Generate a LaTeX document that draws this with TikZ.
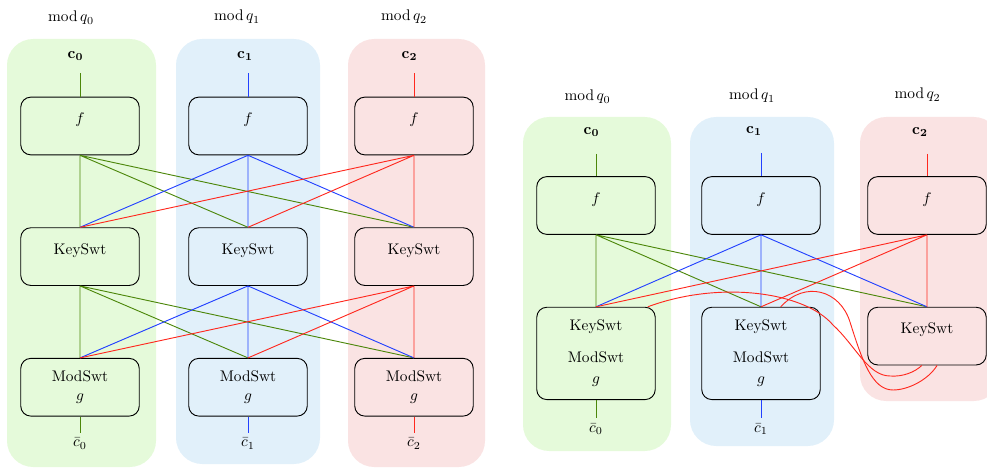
\documentclass[tikz,border=0pt]{standalone}
\usepackage{amsmath}
\usepackage{amssymb}
\usepackage{tikz}
\usetikzlibrary{positioning}
\definecolor{qzero}{RGB}{76,135,10}
\definecolor{qone}{RGB}{35,65,255}
\definecolor{qtwo}{RGB}{255,40,30}
\definecolor{qzerobg}{RGB}{229,250,218}
\definecolor{qonebg}{RGB}{225,240,250}
\definecolor{qtwobg}{RGB}{250,227,227}

\begin{document}
\begin{tikzpicture}[x=0.65pt, y=-0.65pt,
  stage/.style={draw, rounded corners=6.5pt, align=center, minimum width=77pt, minimum height=37.5pt, line width=0.6pt},
  opbox/.style={stage, text depth=10pt},
  swbox/.style={stage, minimum height=60pt},
  lane/.style={rounded corners=17pt},
  wire/.style={line width=0.6pt},
  chead/.style={inner ysep=8pt}
]
\useasboundingbox (0,0) rectangle (987,468);
\clip (0,0) rectangle (987,468);

% lanes
\fill[qzerobg, lane] (7,39) rectangle (156,467);
\fill[qonebg, lane] (176,39) rectangle (320,464);
\fill[qtwobg, lane] (348,39) rectangle (485,467);
\fill[qzerobg, lane] (523,117) rectangle (671,451);
\fill[qonebg, lane] (690,117) rectangle (834,446);
\fill[qtwobg, lane] (860,117) rectangle (1000,401);

% separate key switching and modulus switching
\node (mq0) at (71,18) {$\operatorname{mod} q_0$};
\node (mq1) at (237,17) {$\operatorname{mod} q_1$};
\node (mq2) at (404,17) {$\operatorname{mod} q_2$};
\node[chead] (c0) at (75.5,56) {$\mathbf{c_0}$};
\node[chead] (c1) at (245,56) {$\mathbf{c_1}$};
\node[chead] (c2) at (409.5,56) {$\mathbf{c_2}$};

\node[opbox] (f0) at (80,126) {$f$};
\node[opbox] (f1) at (248,126) {$f$};
\node[opbox] (f2) at (414,126) {$f$};
\node[opbox, below=46.8pt of f0] (ks0) {KeySwt};
\node[opbox, below=46.8pt of f1] (ks1) {KeySwt};
\node[opbox, below=46.8pt of f2] (ks2) {KeySwt};
\node[stage, below=46.8pt of ks0] (ms0) {ModSwt\\$g$};
\node[stage, below=46.8pt of ks1] (ms1) {ModSwt\\$g$};
\node[stage, below=46.8pt of ks2] (ms2) {ModSwt\\$g$};
\node[below=10.4pt of ms0] (cb0) {$\bar{c}_0$};
\node[below=10.4pt of ms1] (cb1) {$\bar{c}_1$};
\node[below=10.4pt of ms2] (cb2) {$\bar{c}_2$};

\draw[wire, qzero] (f0.north |- c0.south) -- (f0);
\draw[wire, qone] (f1.north |- c1.south) -- (f1);
\draw[wire, qtwo] (f2.north |- c2.south) -- (f2);
\draw[wire, qzero] (f0.south) -- (ks0.north) (f0.south) -- (ks1.north) (f0.south) -- (ks2.north);
\draw[wire, qone] (f1.south) -- (ks0.north) (f1.south) -- (ks1.north) (f1.south) -- (ks2.north);
\draw[wire, qtwo] (f2.south) -- (ks0.north) (f2.south) -- (ks1.north) (f2.south) -- (ks2.north);
\draw[wire, qzero] (ks0.south) -- (ms0.north) (ks0.south) -- (ms1.north) (ks0.south) -- (ms2.north);
\draw[wire, qone] (ks1.south) -- (ms0.north) (ks1.south) -- (ms1.north) (ks1.south) -- (ms2.north);
\draw[wire, qtwo] (ks2.south) -- (ms0.north) (ks2.south) -- (ms1.north) (ks2.south) -- (ms2.north);
\draw[wire, qzero] (ms0) -- (cb0);
\draw[wire, qone] (ms1) -- (cb1);
\draw[wire, qtwo] (ms2) -- (cb2);

% merged key switching and modulus switching
\node (rmq0) at (587.5,97) {$\operatorname{mod} q_0$};
\node (rmq1) at (752,96) {$\operatorname{mod} q_1$};
\node (rmq2) at (917.5,95) {$\operatorname{mod} q_2$};
\node[chead, inner ysep=11pt] (rc0) at (591.5,132) {$\mathbf{c_0}$};
\node[chead, inner ysep=11pt] (rc1) at (754,131) {$\mathbf{c_1}$};
\node[chead, inner ysep=11pt] (rc2) at (920,132) {$\mathbf{c_2}$};

\node[opbox] (rf0) at (596,205.5) {$f$};
\node[opbox] (rf1) at (761,205.5) {$f$};
\node[opbox] (rf2) at (927,205.5) {$f$};
\node[swbox, below=46.8pt of rf0] (sw0) {KeySwt\\[8.4pt]ModSwt\\[2pt]$g$};
\node[swbox, below=46.8pt of rf1] (sw1) {KeySwt\\[8.4pt]ModSwt\\[2pt]$g$};
\node[opbox, below=46.8pt of rf2] (rks2) {KeySwt};
\node[below=11.7pt of sw0] (rcb0) {$\bar{c}_0$};
\node[below=11.7pt of sw1] (rcb1) {$\bar{c}_1$};

\draw[wire, qzero] (rf0.north |- rc0.south) -- (rf0);
\draw[wire, qone] (rf1.north |- rc1.south) -- (rf1);
\draw[wire, qtwo] (rf2.north |- rc2.south) -- (rf2);
\draw[wire, qzero] (rf0.south) -- (sw0.north) (rf0.south) -- (sw1.north) (rf0.south) -- (rks2.north);
\draw[wire, qone] (rf1.south) -- (sw0.north) (rf1.south) -- (sw1.north) (rf1.south) -- (rks2.north);
\draw[wire, qtwo] (rf2.south) -- (sw0.north) (rf2.south) -- (sw1.north) (rf2.south) -- (rks2.north);
\draw[wire, qtwo] (rks2.-100) .. controls (915,372) and (903,377) .. (890,376)
  .. controls (868,376) and (855,345) .. (833,325)
  .. controls (805,292) and (720,280) .. (sw0.42);
\draw[wire, qtwo] (rks2.-71) .. controls (928,380) and (908,390) .. (893,390)
  .. controls (872,390) and (862,360) .. (850,322)
  .. controls (840,290) and (805,280) .. (sw1.67);
\draw[wire, qzero] (sw0) -- (rcb0);
\draw[wire, qone] (sw1) -- (rcb1);
\end{tikzpicture}
\end{document}
